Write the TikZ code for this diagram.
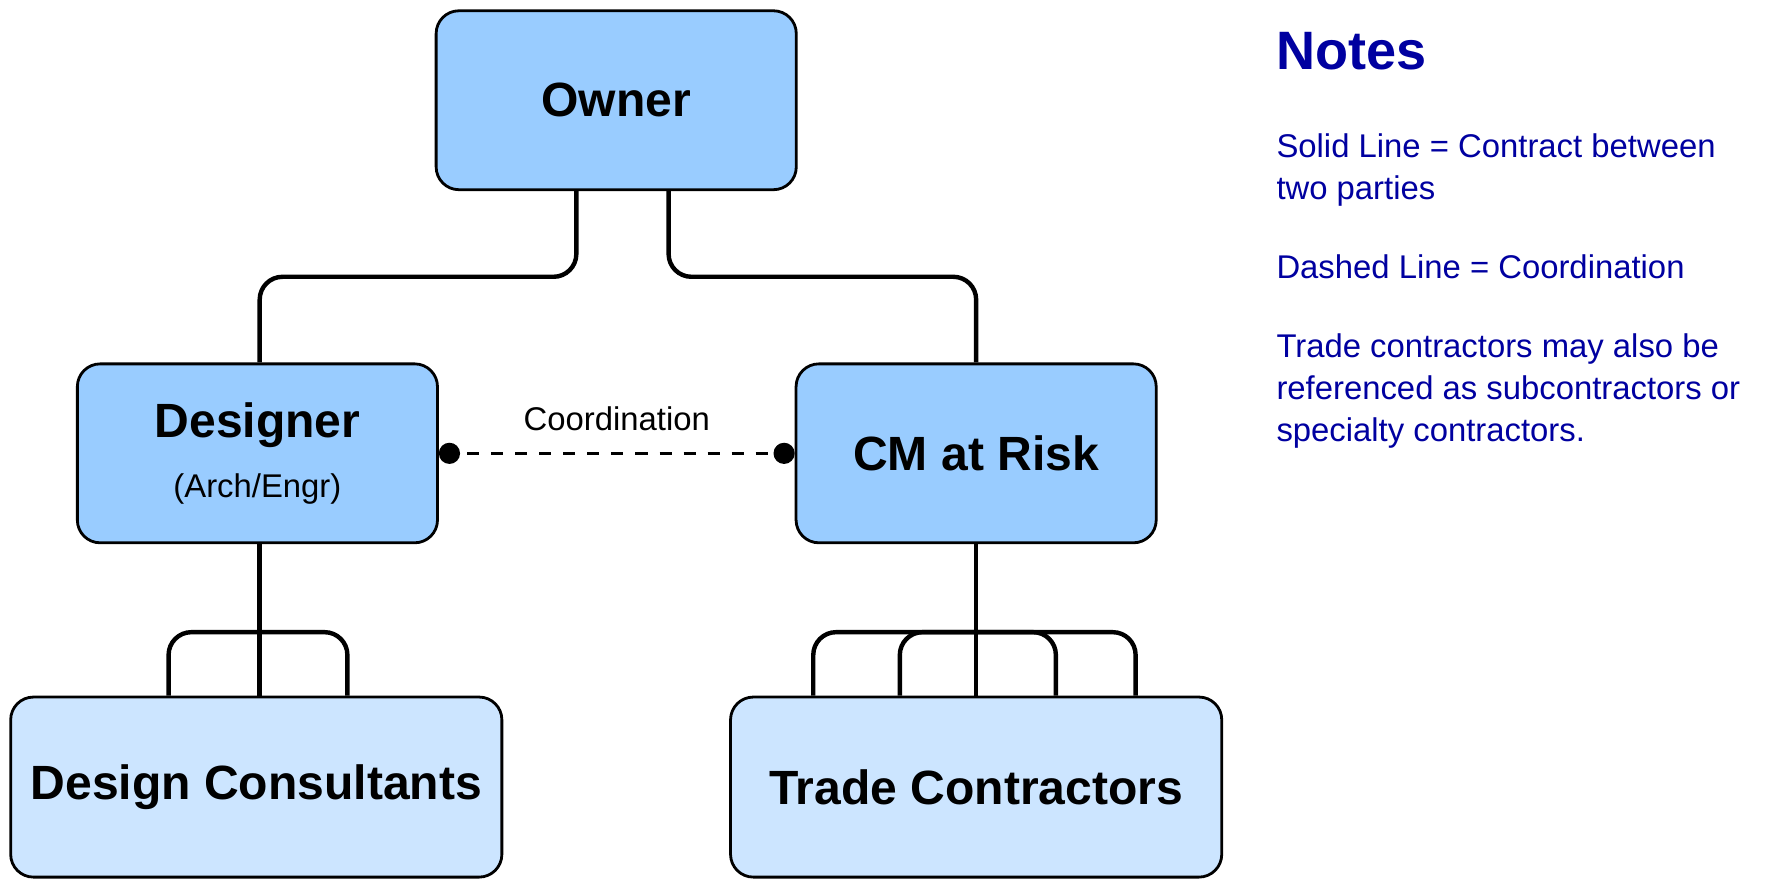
\documentclass[tikz,border=0pt]{standalone}
\usepackage{fontspec}
\setmainfont{Liberation Sans}
\usetikzlibrary{arrows}
\definecolor{darkfill}{HTML}{99CCFF}
\definecolor{lightfill}{HTML}{CCE5FF}
\definecolor{notecol}{HTML}{0000A0}
\begin{document}
\begin{tikzpicture}[x=0.01cm,y=-0.01cm,
  party/.style={draw,line width=0.7pt,rounded corners=0.2cm,fill=darkfill,minimum width=3.16cm,minimum height=1.57cm,font=\fontsize{12}{14}\selectfont\bfseries,align=center},
  sub/.style={party,fill=lightfill,minimum width=4.31cm,minimum height=1.58cm},
  link/.style={line width=1.1pt,rounded corners=0.2cm},
  note/.style={anchor=north west,align=left,text=notecol,font=\fontsize{8.2}{10.5}\selectfont,inner sep=0pt}]
  \useasboundingbox (0,0) rectangle (1568,781);
  \node[party] (O) at (541,88) {Owner};
  \node[party] (D) at (226,398) {Designer\\[1pt]{\fontsize{8.2}{10}\selectfont\mdseries (Arch/Engr)}};
  \node[party] (C) at (857,398) {CM at Risk};
  \node[sub] (DC) at (225,691) {Design Consultants};
  \node[sub] (TC) at (857,691) {Trade Contractors};
  % contracts
  \draw[link] (O.south -| 506,0) |- (367,243) -| (D.north -| 228,0);
  \draw[link] (O.south -| 587,0) |- (722,243) -| (C.north);
  \draw[link] (D.south -| 228,0) -- (DC.north -| 228,0);
  \draw[link] (DC.north -| 148,0) |- (226,555) -| (DC.north -| 305,0);
  \draw[link] (C.south) -- (TC.north);
  \draw[link] (TC.north -| 714,0) |- (820,555) -| (TC.north -| 927,0);
  \draw[link] (TC.north -| 790,0) |- (890,555) -| (TC.north -| 997,0);
  % coordination
  \draw[dashed,line width=0.6pt,*-*] (D.east) -- node[above=2pt,font=\fontsize{8.2}{10}\selectfont] {Coordination} (C.west);
  % notes
  \node[anchor=west,text=notecol,font=\fontsize{13.5}{16}\selectfont\bfseries,inner sep=0pt] (N) at (1120,45) {Notes};
  \node[note] (N1) at (1120,117) {Solid Line = Contract between\\two parties};
  \node[note] (N2) at (1120,223) {Dashed Line = Coordination};
  \node[note] (N3) at (1120,292) {Trade contractors may also be\\referenced as subcontractors or\\specialty contractors.};
\end{tikzpicture}
\end{document}
